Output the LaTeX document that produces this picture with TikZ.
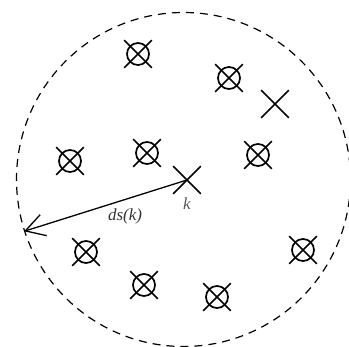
\documentclass[tikz,border=0pt]{standalone}
\usepackage{fontspec}
\setmainfont{Liberation Serif}
\usetikzlibrary{shapes.misc, arrows.meta, positioning}

\begin{document}
\begin{tikzpicture}[
    x=1pt, y=-1pt,
    zone/.style={circle, draw, dashed, dash pattern=on 8pt off 6pt, line width=1.2pt, minimum size=334pt, inner sep=0pt},
    ring/.style={circle, draw, line width=1.7pt, minimum size=22pt, inner sep=0pt},
    xmark/.style={cross out, draw, line width=1.7pt, minimum size=26pt, inner sep=0pt},
    arrow/.style={-{Straight Barb[length=19pt, width=22pt, line width=1.3pt]}, line width=1.3pt},
    lbl/.style={font=\fontsize{17}{19}\selectfont\itshape}
]
\useasboundingbox (0,0) rectangle (349,347);

% search zone around k
\node[zone] (zone) at (183.5,179.5) {};

% neighbours
\foreach \name/\x/\y in {n1/138/54, n2/229/78, n3/70/161, n4/147/153, n5/258/155,
                         n6/86/252, n7/144/285, n8/217/297, n9/303/250} {
    \node[ring] (\name) at (\x,\y) {};
    \node[xmark] at (\name) {};
}

% plain crosses
\node[xmark] (p1) at (275,104) {};
\node[xmark] (k) at (187,180) {};
\node[lbl, text=black!65, below=0pt of k] (klabel) {k};

% radius
\draw[arrow] (k.center) -- node[lbl, text=black!80, below=5pt, pos=0.38] (dslabel) {ds(k)} (zone.198);

\end{tikzpicture}
\end{document}
